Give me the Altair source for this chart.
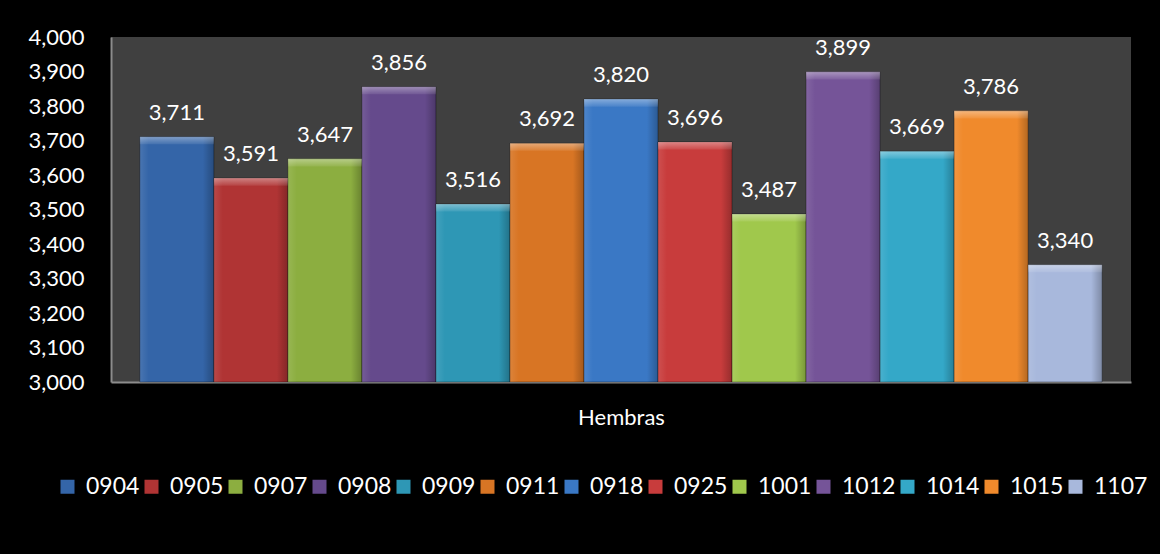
import altair as alt
import pandas as pd

series = ["0904", "0905", "0907", "0908", "0909", "0911", "0918",
          "0925", "1001", "1012", "1014", "1015", "1107"]
values = [3711, 3591, 3647, 3856, 3516, 3692, 3820,
          3696, 3487, 3899, 3669, 3786, 3340]
colors = ["#3465a8", "#b03434", "#8cae40", "#654a8c", "#2e97b5", "#d87524", "#3a78c5",
          "#c83c3c", "#a0c84c", "#755498", "#34a8c8", "#f08a2c", "#a8b8dc"]
y_ticks = [3000, 3100, 3200, 3300, 3400, 3500, 3600, 3700, 3800, 3900, 4000]

df = pd.DataFrame({"serie": series, "valor": values})

FONT = "Lato"

x_enc = alt.X("serie:N", sort=series,
              scale=alt.Scale(paddingInner=0, paddingOuter=0.39),
              axis=alt.Axis(labels=False, ticks=False, title="Hembras",
                            titleFont=FONT, titleFontSize=22, titleFontWeight="normal",
                            titleColor="white", titlePadding=25,
                            domainColor="#8c8c8c", domainWidth=2))
y_scale = alt.Scale(domain=[3000, 4000], nice=False, zero=False, clamp=True)
y_axis = alt.Axis(values=y_ticks, labelExpr="format(datum.value, ',')", title=None,
                  grid=False, ticks=False,
                  labelFont=FONT, labelFontSize=22, labelColor="white",
                  labelOverlap=False, labelPadding=27,
                  domainColor="#8c8c8c", domainWidth=2)
y_enc = alt.Y("valor:Q", scale=y_scale, axis=y_axis)

base = alt.Chart(df)

bars = base.mark_bar(stroke="rgba(0,0,0,0.35)", strokeWidth=1).encode(
    x=x_enc,
    y=y_enc,
    y2=alt.datum(3000),
    color=alt.Color("serie:N", sort=series,
                    scale=alt.Scale(domain=series, range=colors),
                    legend=alt.Legend(title=None, orient="none", direction="horizontal",
                                      columns=13, legendX=-55, legendY=438,
                                      symbolType="square", symbolSize=196,
                                      symbolStrokeWidth=0, symbolOffset=0,
                                      labelFont=FONT, labelFontSize=23, labelColor="white",
                                      labelOffset=7, columnPadding=0)),
)

shade = base.mark_bar(
    color=alt.Gradient(
        gradient="linear", x1=0, x2=1, y1=0, y2=0,
        stops=[alt.GradientStop(color="rgba(255,255,255,0.10)", offset=0),
               alt.GradientStop(color="rgba(255,255,255,0.0)", offset=0.12),
               alt.GradientStop(color="rgba(0,0,0,0.0)", offset=0.85),
               alt.GradientStop(color="rgba(0,0,0,0.25)", offset=1)])
).encode(x=x_enc, y=y_enc, y2=alt.datum(3000))

top = base.transform_calculate(
    top2="datum.valor - 22"
).mark_bar(
    color=alt.Gradient(
        gradient="linear", x1=0, x2=0, y1=0, y2=1,
        stops=[alt.GradientStop(color="rgba(255,255,255,0.38)", offset=0),
               alt.GradientStop(color="rgba(255,255,255,0.08)", offset=1)])
).encode(x=x_enc, y=y_enc, y2="top2:Q")

labels = base.mark_text(font=FONT, fontSize=22, color="white", baseline="alphabetic", dy=-17).encode(
    x=x_enc,
    y=y_enc,
    text=alt.Text("valor:Q", format=","),
)

chart = alt.layer(bars, shade, top, labels).properties(
    width=1020, height=345,
    background="black",
    padding={"left": 111, "top": 37, "right": 29, "bottom": 172},
    autosize=alt.AutoSizeParams(type="none"),
).configure_view(fill="#404040", stroke=None)

chart.save("out.html", embed_options={"renderer": "svg", "actions": False})
